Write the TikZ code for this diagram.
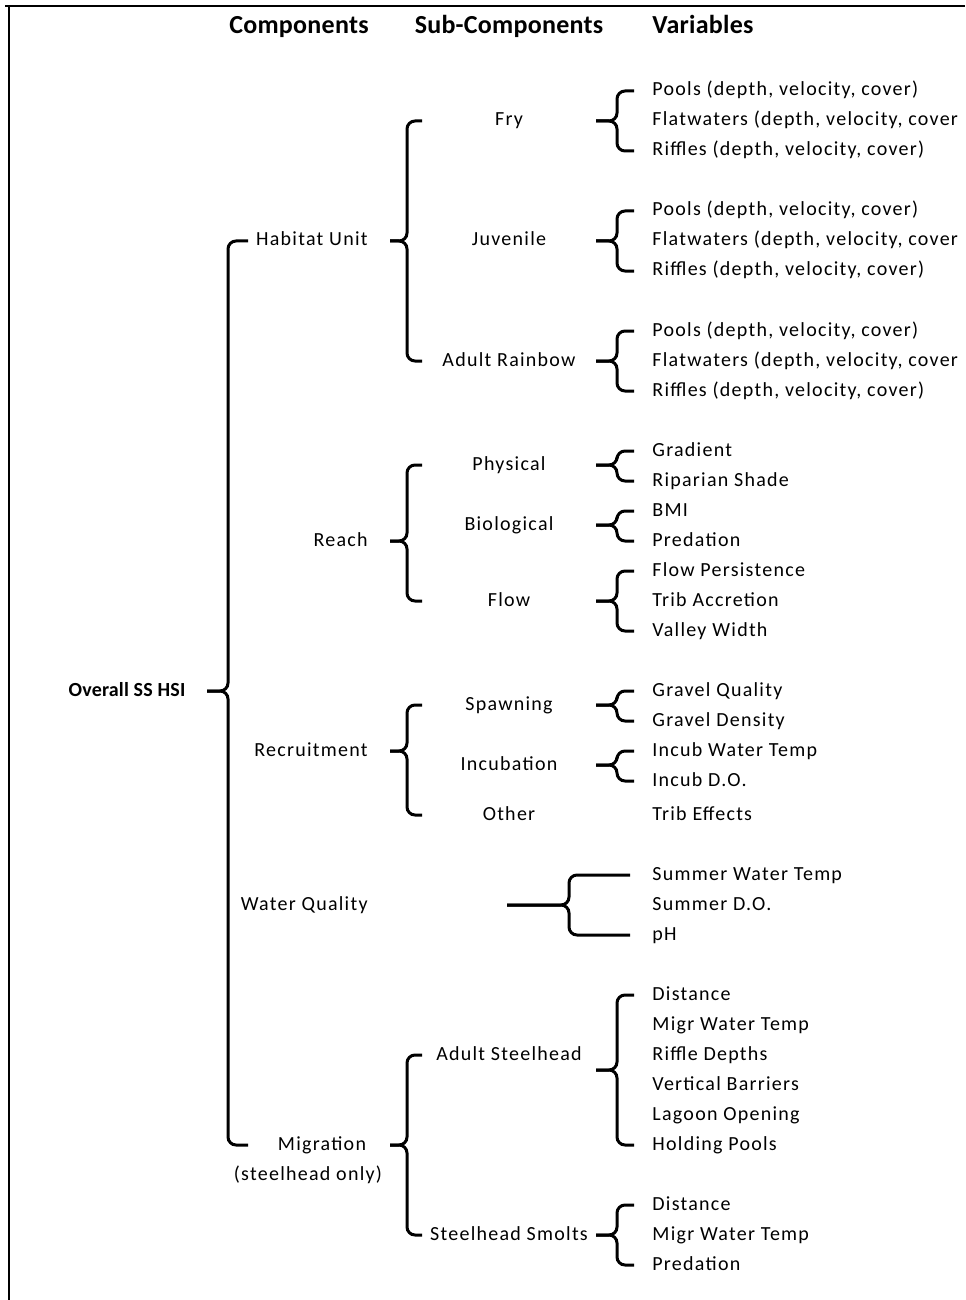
\documentclass[tikz,border=0pt]{standalone}
\usepackage{fontspec}
\setmainfont{Carlito}[LetterSpace=6.3, BoldFeatures={LetterSpace=1}]
\usetikzlibrary{calc}

\tikzset{
    brace/.style={line width=1.5pt, rounded corners=4pt},
    txt/.style={inner sep=0pt, text height=7pt, text depth=2pt},
    comp/.style={txt, anchor=east},
    sub/.style={txt},
    var/.style={txt, anchor=west},
    head/.style={txt, font=\fontsize{13}{15}\selectfont\bfseries}
}
% brace from a parent to its first and last child, in column #1
\newcommand\curly[4]{
    \draw[brace] (h#1 |- #3) -| (s#1 |- #2) -- (t#1 |- #2);
    \draw[brace] (h#1 |- #4) -| (s#1 |- #2) -- (t#1 |- #2);
}

\begin{document}
\begin{tikzpicture}[x=0.5pt, y=-0.5pt, font=\fontsize{10}{12}\selectfont]
    \useasboundingbox (0,0) rectangle (965,1300);
    \draw[line width=1pt] (5,6) -- (965,6);
    \draw[line width=1pt] (9,6) -- (9,1300);

    \begin{scope}[shift={(0,3)}]
    % brace columns: tip, spine, hook
    \coordinate (t1) at (207,0); \coordinate (s1) at (228,0); \coordinate (h1) at (248,0);
    \coordinate (t2) at (390,0); \coordinate (s2) at (407,0); \coordinate (h2) at (422,0);
    \coordinate (t3) at (596,0); \coordinate (s3) at (617,0); \coordinate (h3) at (634,0);
    \coordinate (t4) at (507,0); \coordinate (s4) at (569,0); \coordinate (h4) at (630,0);

    % headers
    \node[head] (hcomp) at (299,26) {Components};
    \node[head] (hsub) at (509,26) {Sub-Components};
    \node[head, anchor=west] (hvar) at (652,26) {Variables};

    % root
    \node[txt, font=\fontsize{10}{12}\selectfont\bfseries] (hsi) at (127,688) {Overall SS HSI};

    % components
    \node[comp] (hab) at (368,238) {Habitat Unit};
    \node[comp] (rea) at (368,538) {Reach};
    \node[comp] (rec) at (368,748) {Recruitment};
    \node[comp] (wq) at (368,902) {Water Quality};
    \node[txt] (mig) at (322,1142) {Migration};
    \node[txt] (migb) at (308,1172) {(steelhead only)};

    % sub-components
    \node[sub] (fry) at (509,118) {Fry};
    \node[sub] (juv) at (509,238) {Juvenile};
    \node[sub] (ad) at (509,358) {Adult Rainbow};
    \node[sub] (phy) at (509,462) {Physical};
    \node[sub] (bio) at (509,522) {Biological};
    \node[sub] (flo) at (509,598) {Flow};
    \node[sub] (spa) at (509,702) {Spawning};
    \node[sub] (inc) at (509,762) {Incubation};
    \node[sub] (oth) at (509,812) {Other};
    \node[sub] (ast) at (509,1052) {Adult Steelhead};
    \node[sub] (sms) at (509,1232) {Steelhead Smolts};

    % variables
    \foreach \g/\y in {fry/88, juv/208, ad/328} {
        \node[var] (\g1) at (652,\y) {Pools (depth, velocity, cover)};
        \node[var] (\g2) at (652,\y+30) {Flatwaters (depth, velocity, cover};
        \node[var] (\g3) at (652,\y+60) {Riffles (depth, velocity, cover)};
    }
    \node[var] (phy1) at (652,448) {Gradient};
    \node[var] (phy2) at (652,478) {Riparian Shade};
    \node[var] (bio1) at (652,508) {BMI};
    \node[var] (bio2) at (652,538) {Predation};
    \node[var] (flo1) at (652,568) {Flow Persistence};
    \node[var] (flo2) at (652,598) {Trib Accretion};
    \node[var] (flo3) at (652,628) {Valley Width};
    \node[var] (spa1) at (652,688) {Gravel Quality};
    \node[var] (spa2) at (652,718) {Gravel Density};
    \node[var] (inc1) at (652,748) {Incub Water Temp};
    \node[var] (inc2) at (652,778) {Incub D.O.};
    \node[var] (oth1) at (652,812) {Trib Effects};
    \node[var] (wq1) at (652,872) {Summer Water Temp};
    \node[var] (wq2) at (652,902) {Summer D.O.};
    \node[var] (wq3) at (652,932) {pH};
    \node[var] (as1) at (652,992) {Distance};
    \node[var] (as2) at (652,1022) {Migr Water Temp};
    \node[var] (as3) at (652,1052) {Riffle Depths};
    \node[var] (as4) at (652,1082) {Vertical Barriers};
    \node[var] (as5) at (652,1112) {Lagoon Opening};
    \node[var] (as6) at (652,1142) {Holding Pools};
    \node[var] (sm1) at (652,1202) {Distance};
    \node[var] (sm2) at (652,1232) {Migr Water Temp};
    \node[var] (sm3) at (652,1262) {Predation};

    \coordinate (asmid) at ($(as1)!0.5!(as6)$);
    \coordinate (wqmid) at ($(wq1)!0.5!(wq3)$);

    % braces
    \curly{1}{hsi}{hab}{mig}
    \curly{2}{hab}{fry}{ad}
    \curly{2}{rea}{phy}{flo}
    \curly{2}{rec}{spa}{oth}
    \curly{2}{mig}{ast}{sms}
    \curly{3}{fry}{fry1}{fry3}
    \curly{3}{juv}{juv1}{juv3}
    \curly{3}{ad}{ad1}{ad3}
    \curly{3}{phy}{phy1}{phy2}
    \curly{3}{bio}{bio1}{bio2}
    \curly{3}{flo}{flo1}{flo3}
    \curly{3}{spa}{spa1}{spa2}
    \curly{3}{inc}{inc1}{inc2}
    \curly{3}{asmid}{as1}{as6}
    \curly{3}{sms}{sm1}{sm3}
    \begin{scope}[rounded corners=8pt]
        \curly{4}{wqmid}{wq1}{wq3}
    \end{scope}
    \end{scope}
\end{tikzpicture}
\end{document}
